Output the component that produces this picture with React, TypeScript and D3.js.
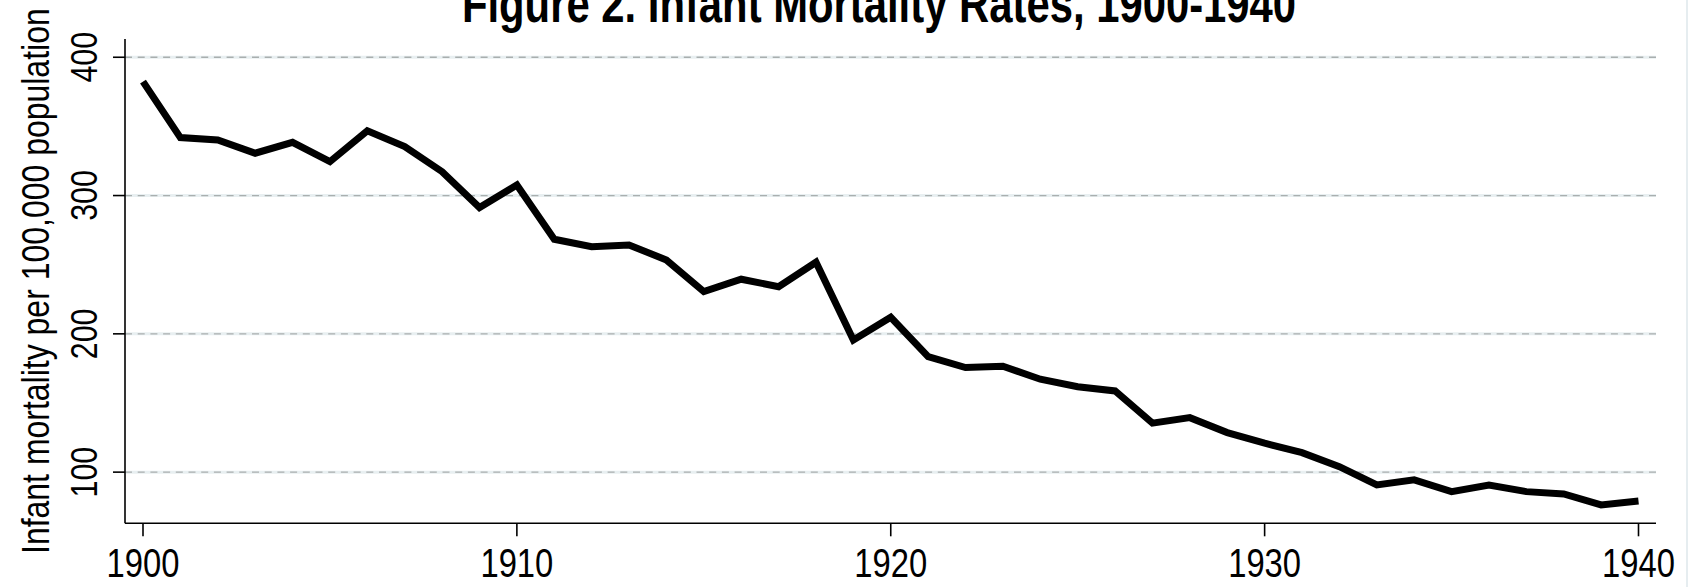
import React from "react";
import * as d3 from "d3";

const years = [1900,1901,1902,1903,1904,1905,1906,1907,1908,1909,1910,1911,1912,1913,1914,1915,1916,1917,1918,1919,1920,1921,1922,1923,1924,1925,1926,1927,1928,1929,1930,1931,1932,1933,1934,1935,1936,1937,1938,1939,1940];
const mortality = [382.4,341.9,340.2,330.6,338.5,324.5,346.9,335.4,317.3,291.3,307.7,268.4,263.0,264.3,253.4,230.5,239.5,234.1,251.8,195.6,212.0,183.5,175.6,176.6,167.2,161.8,158.7,135.4,139.4,128.6,120.9,114.1,104.0,90.7,94.4,85.9,90.7,85.9,84.2,76.3,79.2];
const xTicks = [1900, 1910, 1920, 1930, 1940];
const yTicks = [100, 200, 300, 400];
const title = "Figure 2. Infant Mortality Rates, 1900-1940";
const yTitle = "Infant mortality per 100,000 population";

const W = 1696, H = 587;
const FONT = "'Liberation Sans', Arial, sans-serif";
const NARROW = 0.82;

export default function App() {
  const x = d3.scaleLinear().domain([1900, 1940]).range([143, 1638.5]);
  const y = d3.scaleLinear().domain([63, 413.2]).range([523.3, 39]);
  const plotLeft = 125, plotRight = 1656, plotBottom = 523.3, plotTop = 39;
  const pts = years.map((yr, i) => [yr, mortality[i]] as [number, number]);
  const line = d3.line<[number, number]>().x(d => x(d[0])).y(d => y(d[1]));
  return (
    <svg width={W} height={H} style={{ position: "absolute", left: 0, top: 0, background: "#fff" }} fontFamily={FONT}>
      <rect x={0} y={0} width={W} height={H} fill="#fff" />
      <line x1={1687} x2={1687} y1={0} y2={H} stroke="#e6edf0" strokeWidth={2} />
      {yTicks.map(t => (
        <g key={"g" + t}>
          <line x1={plotLeft} x2={plotRight} y1={y(t)} y2={y(t)} stroke="#e8eff1" strokeWidth={3} />
          <line x1={plotLeft} x2={plotRight} y1={y(t)} y2={y(t)} stroke="#a9afaf" strokeWidth={1.3} strokeDasharray="7,5.7" />
        </g>
      ))}
      <line x1={plotLeft} x2={plotLeft} y1={plotTop} y2={plotBottom} stroke="#000" strokeWidth={1.6} />
      <line x1={plotLeft} x2={plotRight} y1={plotBottom} y2={plotBottom} stroke="#000" strokeWidth={1.6} />
      {yTicks.map(t => (
        <g key={"yt" + t}>
          <line x1={plotLeft - 12} x2={plotLeft} y1={y(t)} y2={y(t)} stroke="#000" strokeWidth={1.6} />
          <text transform={`translate(97,${y(t)}) rotate(-90) scale(${NARROW},1)`} textAnchor="middle" fontSize={37} fill="#000">{t}</text>
        </g>
      ))}
      {xTicks.map(t => (
        <g key={"xt" + t}>
          <line x1={x(t)} x2={x(t)} y1={plotBottom} y2={plotBottom + 13} stroke="#000" strokeWidth={1.6} />
          <text transform={`translate(${x(t)},577) scale(${NARROW},1)`} textAnchor="middle" fontSize={40} fill="#000">{t}</text>
        </g>
      ))}
      <path d={line(pts) || ""} fill="none" stroke="#000" strokeWidth={7} strokeLinejoin="miter" />
      <text transform={`translate(49,${(plotTop + plotBottom) / 2}) rotate(-90) scale(${NARROW},1)`} textAnchor="middle" fontSize={39} fill="#000">{yTitle}</text>
      <text transform={`translate(879,22) scale(${NARROW},1)`} textAnchor="middle" fontSize={51} fontWeight="bold" fill="#000">{title}</text>
    </svg>
  );
}
